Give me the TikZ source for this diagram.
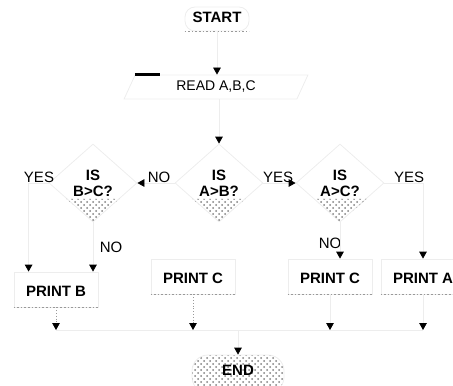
\documentclass[tikz,border=0pt]{standalone}
\usepackage{fontspec}
\setmainfont{Liberation Sans}
\usetikzlibrary{shapes.geometric,arrows.meta,patterns,calc}
\begin{document}
\begin{tikzpicture}[x=0.5pt,y=-0.5pt,
  font=\fontsize{7.5}{8}\selectfont,
  faint/.style={draw=black!7,line width=0.4pt},
  conn/.style={faint,-{Triangle[length=3.5pt,width=3.8pt,color=black]}},
  speck/.style={draw=black!40,densely dotted,line width=0.8pt},
  shade/.style={pattern=crosshatch dots,pattern color=black!50},
  term/.style={faint,rounded corners=5pt,minimum width=32pt,
    text height=7pt,text depth=3pt,inner ysep=1pt,font=\fontsize{7.5}{8}\selectfont\bfseries},
  inbox/.style={faint,trapezium,trapezium left angle=70,trapezium right angle=110,
    trapezium stretches=true,minimum width=92pt,minimum height=12pt,inner sep=1pt,
    font=\fontsize{7}{8}\selectfont},
  dec/.style={faint,diamond,minimum width=44pt,minimum height=39pt,inner sep=0pt,
    align=center,font=\fontsize{7.5}{8}\selectfont\bfseries},
  pbox/.style={faint,minimum width=42pt,text height=11pt,text depth=4.5pt,
    inner ysep=1pt,inner xsep=2pt,font=\fontsize{7.5}{8}\selectfont\bfseries},
  lbl/.style={inner sep=0pt,font=\fontsize{7.5}{8}\selectfont}]

\useasboundingbox (0,0) rectangle (453,385);

% start and input
\node[term,anchor=base] (start) at (217,23) {START};
\draw[speck] (start.south west) -- (start.south east);
\node[inbox] (read) at (216,87) {READ A,B,C};
\draw[line width=1.5pt] (read.top left corner) -- ++(25,0);

% decisions
\node[dec] (dab) at (219,183) {IS\\A>B?};
\node[dec] (dbc) at (93,183) {IS\\B>C?};
\node[dec] (dac) at (340,183) {IS\\A>C?};
\foreach \d in {dab,dbc,dac}
  \fill[shade] ($(\d.south)!0.6!(\d.west)$) -- (\d.south) -- ($(\d.south)!0.6!(\d.east)$) -- cycle;

% outputs
\node[pbox,anchor=base] (pb) at (56,296) {PRINT B};
\node[pbox,anchor=base] (pc1) at (193,283) {PRINT C};
\node[pbox,anchor=base] (pc2) at (330,283) {PRINT C};
\node[pbox,anchor=base] (pa) at (423,283) {PRINT A};
\foreach \b in {pb,pc1,pc2,pa}
  \draw[speck] (\b.south west) -- (\b.south east);

% end
\node[faint,rounded corners=8pt,shade,minimum width=46pt,text height=9pt,text depth=8pt,
  inner ysep=1pt,anchor=base,font=\fontsize{7.5}{8}\selectfont\bfseries] (endn) at (238,375) {END};

% branch labels
\node[lbl] (yes1) at (39,177) {YES};
\node[lbl] (no1) at (159,177) {NO};
\node[lbl] (yes2) at (278,177) {YES};
\node[lbl] (yes3) at (409,177) {YES};
\node[lbl] (no2) at (111,247) {NO};
\node[lbl] (no3) at (330,243) {NO};

% flow
\draw[conn] (start.south) -- (start.south |- read.north);
\draw[conn] (read.south -| dab.north) -- (dab.north);
\draw[conn] (dab.west) -- (dbc.east);
\draw[conn] (dab.east) -- (dac.west);
\draw[conn] (dbc.west) -| ([xshift=7.5pt]pb.north west);
\draw[conn] (dbc.south) -- (dbc.south |- pb.north);
\draw[conn] (dac.south) -- (dac.south |- pc2.north);
\draw[conn] (dac.east) -| (pa.north);

% collecting line into END
\coordinate (bus) at (238,330);
\draw[conn,draw=black!40,densely dotted] (pb.south) -- (pb.south |- bus);
\draw[conn,draw=black!40,densely dotted] (pc1.south) -- (pc1.south |- bus);
\draw[conn] (pc2.south) -- (pc2.south |- bus);
\draw[conn] (pa.south) -- (pa.south |- bus);
\draw[faint] (pb.south |- bus) -- (pa.south |- bus);
\draw[conn] (endn.north |- bus) -- (endn.north);
\end{tikzpicture}
\end{document}
